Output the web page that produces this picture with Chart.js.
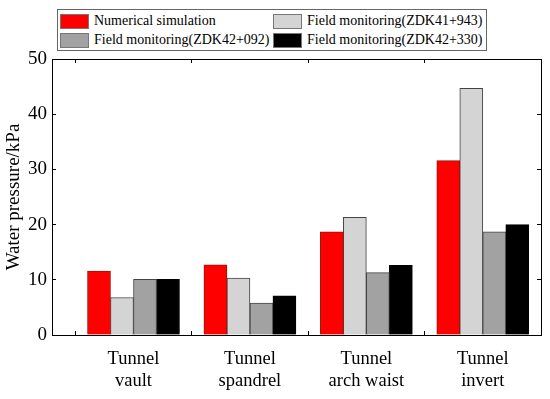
<!DOCTYPE html>
<html>
<head>
<meta charset="utf-8">
<script src="https://cdn.jsdelivr.net/npm/chart.js@4"></script>
<style>
  body { margin: 0; background: #fff; }
  #wrap { position: relative; width: 550px; height: 399px; }
  #legend {
    position: absolute; left: 57px; top: 9px; width: 428px; height: 40px;
    border: 1px solid #666; background: #fff;
    font-family: 'Liberation Serif', 'Times New Roman', serif; font-size: 14px; color: #000;
  }
  .item { position: absolute; display: flex; align-items: center; height: 18px; }
  .swatch { width: 29px; height: 15px; margin-right: 5px; box-sizing: border-box; border: 1px solid #777; }
</style>
</head>
<body>
<div id="wrap">
  <canvas id="chart"></canvas>
  <div id="legend"></div>
</div>
<script>
const categories = [['Tunnel', 'vault'], ['Tunnel', 'spandrel'], ['Tunnel', 'arch waist'], ['Tunnel', 'invert']];
const seriesNames = ['Numerical simulation', 'Field monitoring(ZDK41+943)', 'Field monitoring(ZDK42+092)', 'Field monitoring(ZDK42+330)'];
const numerical = [11.6, 12.7, 18.7, 31.6];
const zdk41943 = [6.8, 10.3, 21.3, 44.7];
const zdk42092 = [10.1, 5.8, 11.3, 18.7];
const zdk42330 = [10.1, 7.1, 12.6, 20.0];
const yTicks = [0, 10, 20, 30, 40, 50];
const boundaryTicks = [-0.5, 0.5, 1.5, 2.5];

const fills = ['#ff0000', '#d4d4d4', '#a2a2a2', '#000000'];
const borders = ['#9b1500', '#444', '#444', '#000'];
const seriesValues = [numerical, zdk41943, zdk42092, zdk42330];

Chart.defaults.font.family = "'Liberation Serif', 'Times New Roman', serif";
Chart.defaults.color = '#000';

const datasets = seriesValues.map((vals, k) => ({
  label: seriesNames[k],
  data: vals.map((v, i) => ({ x: i, y: v })),
  backgroundColor: fills[k],
  borderColor: borders[k],
  borderWidth: 1,
  barThickness: 23,
}));

// inward tick marks on all four sides (negative tick length)
const border = { display: true, color: '#000', width: 1 };
const noGrid = { drawOnChartArea: false, offset: false, tickLength: -4, color: '#000', tickWidth: 1 };

new Chart(document.getElementById('chart'), {
  type: 'bar',
  data: { datasets },
  options: {
    responsive: true,
    maintainAspectRatio: false,
    animation: false,
    layout: { padding: 0 },
    plugins: { legend: { display: false }, tooltip: { enabled: false } },
    scales: {
      x: {
        type: 'linear', position: 'bottom', min: -0.7, max: 3.5, offset: false,
        afterBuildTicks: s => { s.ticks = [...boundaryTicks, 0, 1, 2, 3].sort((a, b) => a - b).map(v => ({ value: v })); },
        afterFit: s => { s.height = 64; },
        border,
        grid: {
          drawOnChartArea: false, offset: false, tickLength: -4, tickWidth: 1,
          tickColor: ctx => (ctx.tick && Number.isInteger(ctx.tick.value)) ? 'rgba(0,0,0,0)' : '#000',
        },
        ticks: {
          autoSkip: false, maxRotation: 0, padding: 17,
          font: { size: 18.5 }, lineHeight: 1.17,
          callback: v => Number.isInteger(v) && categories[v] ? categories[v] : '',
        },
      },
      xTop: {
        type: 'linear', position: 'top', min: -0.7, max: 3.5, offset: false,
        afterBuildTicks: s => { s.ticks = boundaryTicks.map(v => ({ value: v })); },
        afterFit: s => { s.height = 59; },
        border, grid: noGrid, ticks: { display: false },
      },
      y: {
        position: 'left', min: 0, max: 50,
        afterBuildTicks: s => { s.ticks = yTicks.map(v => ({ value: v })); },
        afterFit: s => { s.width = 52; },
        border, grid: noGrid,
        ticks: { font: { size: 19 }, padding: 9 },
        title: { display: true, text: 'Water pressure/kPa', font: { size: 19 }, padding: { top: 3, bottom: 0 } },
      },
      yRight: {
        position: 'right', min: 0, max: 50,
        afterBuildTicks: s => { s.ticks = yTicks.map(v => ({ value: v })); },
        afterFit: s => { s.width = 9; },
        border, grid: noGrid, ticks: { display: false },
      },
    },
  },
});

// legend: two columns, two rows, boxed
const legend = document.getElementById('legend');
const spots = [[2, 2], [215, 2], [2, 21], [215, 21]];
seriesNames.forEach((name, k) => {
  const el = document.createElement('div');
  el.className = 'item';
  el.style.left = spots[k][0] + 'px';
  el.style.top = spots[k][1] + 'px';
  el.innerHTML = `<span class="swatch" style="background:${fills[k]}"></span><span>${name}</span>`;
  legend.appendChild(el);
});
</script>
</body>
</html>
